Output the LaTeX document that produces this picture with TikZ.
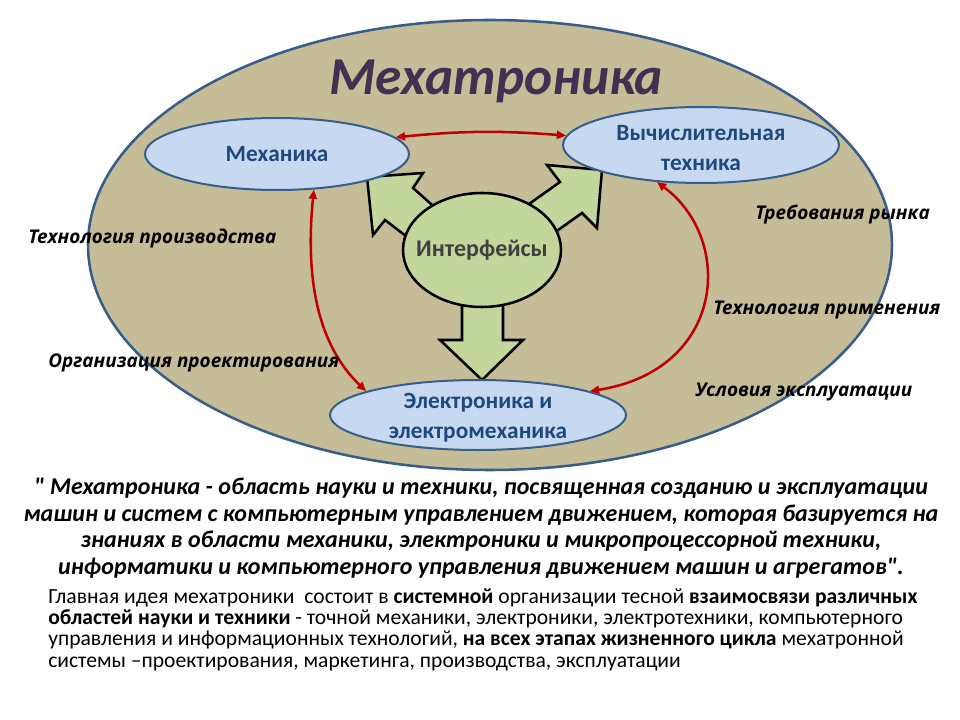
\documentclass[tikz,border=0pt]{standalone}
\usepackage{fontspec}
\setmainfont{Carlito}[Ligatures=TeXOff]
\newfontfamily\lblfont{Open Sans}
\usetikzlibrary{shapes.geometric,arrows.meta}
\definecolor{tanfill}{HTML}{C4BD97}
\definecolor{outline}{HTML}{385D8A}
\definecolor{bluefill}{HTML}{C6D9F1}
\definecolor{bluetext}{HTML}{1F497D}
\definecolor{greenfill}{HTML}{C3D69B}
\definecolor{redarr}{HTML}{C00000}
\definecolor{titlec}{HTML}{403152}
\definecolor{graytext}{HTML}{404040}
\tikzset{
  bigell/.style={ellipse, draw=outline, line width=1.9pt, fill=tanfill, inner sep=0pt},
  blueell/.style={ellipse, draw=outline, line width=1.5pt, fill=bluefill, inner sep=0pt},
  bluetxt/.style={text=bluetext, align=center, inner sep=0pt, font=\fontsize{17.5}{22.5}\selectfont\bfseries},
  greenell/.style={ellipse, draw=black, line width=1.9pt, fill=greenfill, inner sep=0pt},
  greentxt/.style={text=graytext, inner sep=0pt, font=\fontsize{18}{22}\selectfont\bfseries},
  blockarrow/.style={draw=black, line width=1.9pt, fill=greenfill, line join=miter},
  redline/.style={draw=redarr, line width=1.9pt, {Triangle[length=7pt,width=6pt]}-{Triangle[length=7pt,width=6pt]}},
  lbl/.style={anchor=west, inner sep=0pt, font=\lblfont\fontsize{14.2}{17}\selectfont\bfseries\itshape},
}
\begin{document}
\begin{tikzpicture}[x=0.75pt,y=-0.75pt]
\useasboundingbox (0,0) rectangle (960,720);
\fill[white] (0,0) rectangle (960,720);
% outer ellipse
\node[bigell, minimum width=603pt, minimum height=337.5pt] (outer) at (490,245) {};
\node[anchor=base, inner sep=0pt, font=\fontsize{40}{44}\selectfont\bfseries\itshape, text=titlec] (title) at (496,95) {Мехатроника};
% block arrows
\draw[blockarrow] (367,177) -- (423,173) -- (413,188) -- (440,212) -- (415,243) -- (385,220) -- (373,235) -- cycle;
\draw[blockarrow] (602,170) -- (547,165) -- (560,182) -- (515,214) -- (540,243) -- (582,213) -- (597,228) -- cycle;
\draw[blockarrow] (462,290) -- (462,340) -- (440,340) -- (482,380) -- (523,340) -- (503,340) -- (503,290) -- cycle;
% nodes
\node[greenell, minimum width=118.5pt, minimum height=85.5pt,
      label={[greentxt]center:Интерфейсы}] (intf) at (482,250) {};
\node[blueell, minimum width=198pt, minimum height=54pt,
      label={[bluetxt]center:Механика}] (mech) at (277,154) {};
\node[blueell, minimum width=207pt, minimum height=57pt,
      label={[bluetxt, yshift=-2.25pt]center:Вычислительная\\техника}] (comp) at (701,145) {};
\node[blueell, minimum width=222pt, minimum height=52.5pt,
      label={[bluetxt, yshift=-2.25pt]center:Электроника и\\электромеханика}] (elec) at (478,415) {};
% red connectors
\draw[redline] (mech.8) to[bend left=5] (comp.176);
\draw[redline] (mech.-44) .. controls (305,280) and (318,345) .. (elec.168);
\draw[redline] (comp.-140) .. controls (735,240) and (725,370) .. (elec.12);
% labels
\node[lbl] (l1) at (28,238) {Технология производства};
\node[lbl] (l2) at (48,363) {Организация проектирования};
\node[lbl] (l3) at (755,215) {Требования рынка};
\node[lbl] (l4) at (713,310) {Технология применения};
\node[lbl] (l5) at (695,392) {Условия эксплуатации};
% quote
\node[align=center, inner sep=0pt, font=\fontsize{18}{19.9}\selectfont\bfseries\itshape] (quote) at (481,528)
 {" Мехатроника - область науки и техники, посвященная созданию и эксплуатации\\
  машин и систем с компьютерным управлением движением, которая базируется на\\
  знаниях в области механики, электроники и микропроцессорной техники,\\
  информатики и компьютерного управления движением машин и агрегатов".};
% paragraph
\node[align=left, anchor=north west, inner sep=0pt, font=\fontsize{16.2}{16}\selectfont] (para) at (48,588)
 {Главная идея мехатроники\ \ состоит в \textbf{системной} организации тесной \textbf{взаимосвязи различных}\\
  \textbf{областей науки и техники} - точной механики, электроники, электротехники, компьютерного\\
  управления и информационных технологий, \textbf{на всех этапах жизненного цикла} мехатронной\\
  системы –проектирования, маркетинга, производства, эксплуатации};
\end{tikzpicture}
\end{document}
